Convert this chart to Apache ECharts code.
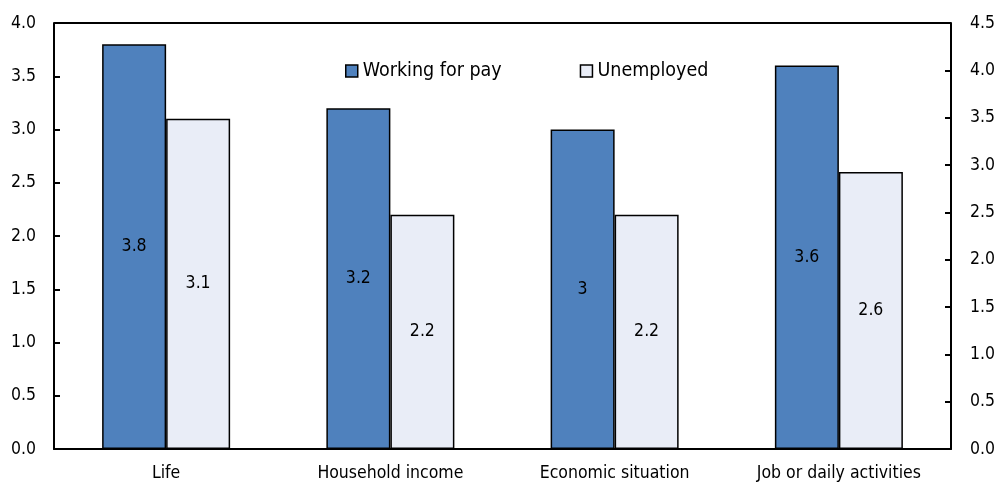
<!DOCTYPE html>
<html><head><meta charset="utf-8">
<script src="https://cdn.jsdelivr.net/npm/echarts@6/dist/echarts.min.js"></script>
<style>html,body{margin:0;padding:0;background:#fff}#c{width:999px;height:484px}</style>
</head><body><div id="c"></div>
<script>
const categories = ['Life', 'Household income', 'Economic situation', 'Job or daily activities'];
const workingForPay = [3.8, 3.2, 3.0, 3.6];
const unemployed = [3.1, 2.2, 2.2, 2.6];
const leftTicks = [0, 4, 0.5];
const rightTicks = [0, 4.5, 0.5];

const FONT = "'DejaVu Sans Condensed', 'Liberation Sans', sans-serif";
const chart = echarts.init(document.getElementById('c'), null, {renderer: 'canvas'});
const lbl = {show: true, position: 'inside', color: '#000', fontFamily: FONT, fontSize: 17.5,
  formatter: p => String(p.value)};
chart.setOption({
  animation: false,
  textStyle: {fontFamily: FONT},
  grid: {left: 54, right: 48, top: 23, bottom: 35, containLabel: false},
  legend: {
    left: 345, top: 61, padding: 0, itemWidth: 12, itemHeight: 12, itemGap: 78, icon: 'rect',
    textStyle: {fontFamily: FONT, fontSize: 19.5, color: '#000'},
    data: [
      {name: 'Working for pay', itemStyle: {color: '#4F81BD', borderColor: '#000', borderWidth: 1.5}},
      {name: 'Unemployed', itemStyle: {color: '#E9EDF7', borderColor: '#000', borderWidth: 1.5}}
    ]
  },
  xAxis: {
    type: 'category', data: categories,
    axisLine: {lineStyle: {color: '#000', width: 2}},
    axisTick: {show: false},
    axisLabel: {color: '#000', fontFamily: FONT, fontSize: 17.5, margin: 15}
  },
  yAxis: [
    {type: 'value', min: leftTicks[0], max: leftTicks[1], interval: leftTicks[2], position: 'left',
     axisLine: {show: true, lineStyle: {color: '#000', width: 2}},
     axisTick: {show: true, inside: true, length: 6, lineStyle: {color: '#000', width: 2}},
     splitLine: {show: false},
     axisLabel: {color: '#000', fontFamily: FONT, fontSize: 17.5, margin: 18, formatter: v => v.toFixed(1)}},
    {type: 'value', min: rightTicks[0], max: rightTicks[1], interval: rightTicks[2], position: 'right',
     axisLine: {show: true, lineStyle: {color: '#000', width: 2}},
     axisTick: {show: true, inside: true, length: 6, lineStyle: {color: '#000', width: 2}},
     splitLine: {show: false},
     axisLabel: {color: '#000', fontFamily: FONT, fontSize: 17.5, margin: 19, formatter: v => v.toFixed(1)}}
  ],
  graphic: [{type: 'line', shape: {x1: 54, y1: 23, x2: 951, y2: 23}, style: {stroke: '#000', lineWidth: 2}}],
  series: [
    {name: 'Working for pay', type: 'bar', yAxisIndex: 0, data: workingForPay, barWidth: 64, barGap: '0%',
     itemStyle: {color: '#4F81BD', borderColor: '#000', borderWidth: 1.5}, label: lbl},
    {name: 'Unemployed', type: 'bar', yAxisIndex: 0, data: unemployed, barWidth: 64, barGap: '0%',
     itemStyle: {color: '#E9EDF7', borderColor: '#000', borderWidth: 1.5}, label: lbl}
  ]
});
</script></body></html>
